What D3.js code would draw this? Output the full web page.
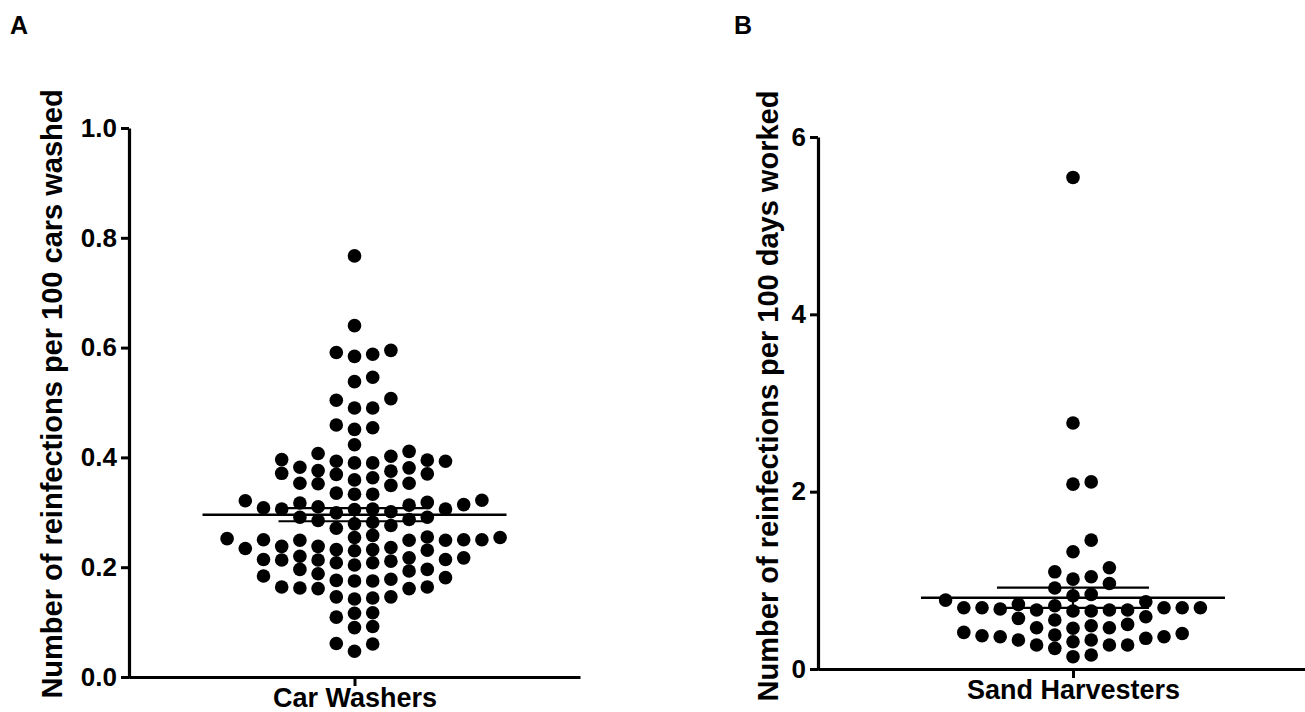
<!DOCTYPE html>
<html>
<head>
<meta charset="utf-8">
<script src="https://cdn.jsdelivr.net/npm/d3@7"></script>
<style>
  body { margin: 0; background: #fff; }
  text { font-family: "Liberation Sans", Arial, sans-serif; font-weight: bold; fill: #000; }
</style>
</head>
<body>
<script>
// DATA
const panelLabels = ["A", "B"];
const groupA = ["Car Washers"];
const groupB = ["Sand Harvesters"];
const ticksA = [0, 0.2, 0.4, 0.6, 0.8, 1.0];
const ticksB = [0, 2, 4, 6];
const titleA = "Number of reinfections per 100 cars washed";
const titleB = "Number of reinfections per 100 days worked";

const carWashers = [
  0.767, 0.640, 0.595, 0.591, 0.588, 0.584, 0.546, 0.538, 0.507, 0.504,
  0.490, 0.490, 0.459, 0.454, 0.451, 0.423, 0.411, 0.407, 0.402, 0.396,
  0.395, 0.393, 0.393, 0.390, 0.390, 0.382, 0.381, 0.376, 0.375, 0.371,
  0.370, 0.369, 0.363, 0.359, 0.353, 0.353, 0.352, 0.349, 0.335, 0.333,
  0.333, 0.322, 0.321, 0.318, 0.317, 0.314, 0.313, 0.310, 0.308, 0.306,
  0.306, 0.306, 0.305, 0.301, 0.299, 0.291, 0.291, 0.287, 0.285, 0.282,
  0.279, 0.276, 0.271, 0.258, 0.255, 0.254, 0.254, 0.252, 0.250, 0.250,
  0.250, 0.249, 0.249, 0.249, 0.238, 0.238, 0.236, 0.234, 0.232, 0.232,
  0.231, 0.230, 0.220, 0.217, 0.217, 0.214, 0.214, 0.213, 0.213, 0.211,
  0.208, 0.208, 0.204, 0.196, 0.196, 0.193, 0.188, 0.184, 0.181, 0.178,
  0.176, 0.175, 0.175, 0.164, 0.164, 0.162, 0.161, 0.161, 0.146, 0.146,
  0.144, 0.142, 0.117, 0.116, 0.109, 0.092, 0.090, 0.061, 0.060, 0.047
];

const sandHarvesters = [
  5.544, 2.775, 2.110, 2.085, 1.453, 1.322, 1.142, 1.096, 1.040, 1.014,
  0.965, 0.913, 0.841, 0.826, 0.777, 0.758, 0.729, 0.713, 0.691, 0.691,
  0.691, 0.691, 0.691, 0.676, 0.665, 0.665, 0.665, 0.654, 0.654, 0.589,
  0.571, 0.552, 0.503, 0.488, 0.465, 0.465, 0.459, 0.413, 0.401, 0.383,
  0.375, 0.364, 0.364, 0.346, 0.327, 0.327, 0.308, 0.270, 0.270, 0.270,
  0.233, 0.158, 0.139
];

const W = 1305, H = 712;
const svg = d3.select("body").append("svg")
    .attr("width", W)
    .attr("height", H);

// simple grid beeswarm: lowest values first, nearest free column
function swarm(values, y, gap) {
    const placed = [];
    values.slice().sort((a, b) => a - b).forEach(v => {
        const py = y(v);
        for (let i = 0; ; i++) {
            const k = i === 0 ? 0 : (i % 2 ? (i + 1) / 2 : -i / 2);
            if (!placed.some(p => p.k === k && Math.abs(p.py - py) < gap)) {
                placed.push({v: v, py: py, k: k});
                break;
            }
        }
    });
    return placed;
}

function drawPanel(cfg) {
    const x = d3.scalePoint()
        .domain(cfg.group)
        .range([cfg.left, cfg.right])
        .padding(0.5);

    const y = d3.scaleLinear()
        .domain(cfg.domain)
        .range([cfg.bottom, cfg.top]);

    const g = svg.append("g");

    // Y AXIS
    const yAxis = g.append("g")
        .attr("transform", `translate(${cfg.left},0)`)
        .call(d3.axisLeft(y).tickValues(cfg.ticks).tickFormat(cfg.fmt)
            .tickSize(8).tickSizeOuter(0).tickPadding(4));
    // X AXIS
    const xAxis = g.append("g")
        .attr("transform", `translate(0,${cfg.bottom})`)
        .call(d3.axisBottom(x).tickSize(9).tickSizeOuter(0).tickPadding(3));

    [yAxis, xAxis].forEach(a => {
        a.select(".domain").attr("stroke-width", 3.2).attr("stroke", "#000");
        a.selectAll(".tick line").attr("stroke-width", 3).attr("stroke", "#000");
        a.selectAll("text").attr("font-family", null).attr("fill", "#000");
    });
    yAxis.selectAll("text").attr("font-size", 26);
    xAxis.selectAll("text").attr("font-size", 27).attr("dy", "0.66em");
    // close the corner
    g.append("line")
        .attr("x1", cfg.left).attr("x2", cfg.left + 2)
        .attr("y1", cfg.bottom).attr("y2", cfg.bottom)
        .attr("stroke", "#000").attr("stroke-width", 3.2);

    // Y TITLE
    g.append("text")
        .attr("transform", `translate(${cfg.titleX},${cfg.titleY}) rotate(-90)`)
        .attr("text-anchor", "middle")
        .attr("font-size", 29)
        .text(cfg.title);

    // PANEL LETTER
    g.append("text")
        .attr("x", cfg.letterX)
        .attr("y", 34)
        .attr("font-size", 25)
        .text(cfg.letter);

    // DOTS
    const cx = x(cfg.group[0]);
    const pts = swarm(cfg.values, y, cfg.gap);
    g.selectAll("circle.dot")
        .data(pts)
        .enter()
        .append("circle")
        .attr("class", "dot")
        .attr("cx", d => cx + d.k * 18.2)
        .attr("cy", d => d.py)
        .attr("r", 6.8)
        .attr("fill", "#000");

    // MEAN +/- SEM
    const m = d3.mean(cfg.values);
    const sem = d3.deviation(cfg.values) / Math.sqrt(cfg.values.length);
    g.append("line")
        .attr("x1", cx - 152).attr("x2", cx + 152)
        .attr("y1", y(m)).attr("y2", y(m))
        .attr("stroke", "#000").attr("stroke-width", 2.6);
    [m - sem, m + sem].forEach(v => {
        g.append("line")
            .attr("x1", cx - 76).attr("x2", cx + 76)
            .attr("y1", y(v)).attr("y2", y(v))
            .attr("stroke", "#000").attr("stroke-width", 2.2);
    });
    g.append("line")
        .attr("x1", cx).attr("x2", cx)
        .attr("y1", y(m - sem)).attr("y2", y(m + sem))
        .attr("stroke", "#000").attr("stroke-width", 2.2);
}

drawPanel({
    group: groupA, values: carWashers, ticks: ticksA, domain: [0, 1],
    fmt: d3.format(".1f"), title: titleA, letter: panelLabels[0],
    left: 129, right: 580, top: 128, bottom: 677, gap: 13,
    titleX: 62, titleY: 394, letterX: 10
});

drawPanel({
    group: groupB, values: sandHarvesters, ticks: ticksB, domain: [0, 6],
    fmt: d3.format("d"), title: titleB, letter: panelLabels[1],
    left: 818, right: 1328, top: 137, bottom: 669, gap: 13,
    titleX: 778, titleY: 396, letterX: 734
});
</script>
</body>
</html>
